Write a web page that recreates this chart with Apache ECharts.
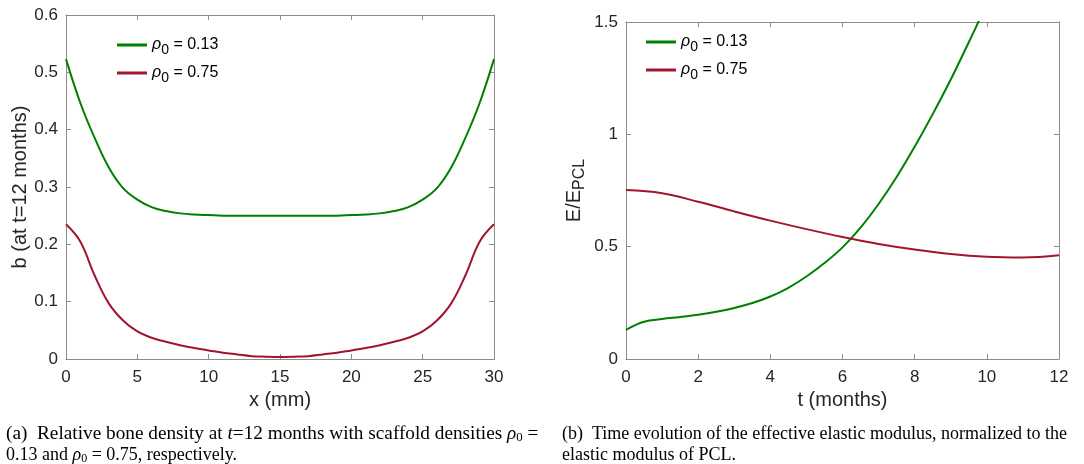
<!DOCTYPE html>
<html>
<head>
<meta charset="utf-8">
<script src="https://cdn.jsdelivr.net/npm/echarts@6/dist/echarts.min.js"></script>
<style>
html, body { margin: 0; padding: 0; background: #fff; }
#main { width: 1084px; height: 464px; }
</style>
</head>
<body>
<div id="main"></div>
<script>
// (a) bone density along x (mm)
var xGrid = [0, 1, 2, 3, 4, 5, 6, 7, 8, 9, 10, 11, 12, 13, 14, 15, 16, 17, 18, 19, 20, 21, 22, 23, 24, 25, 26, 27, 28, 29, 30];
var bGreen = [0.523, 0.447, 0.386, 0.334, 0.298, 0.278, 0.265, 0.258, 0.254, 0.252, 0.251, 0.25, 0.25, 0.25, 0.25, 0.25, 0.25, 0.25, 0.25, 0.25, 0.251, 0.252, 0.254, 0.258, 0.265, 0.278, 0.298, 0.334, 0.386, 0.447, 0.523];
var bRed = [0.235, 0.205, 0.146, 0.097, 0.067, 0.048, 0.037, 0.030, 0.024, 0.019, 0.015, 0.011, 0.008, 0.005, 0.004, 0.0035, 0.004, 0.005, 0.008, 0.011, 0.015, 0.019, 0.024, 0.030, 0.037, 0.048, 0.067, 0.097, 0.146, 0.205, 0.235];

// (b) E/E_PCL over t (months)
var tGreen = [0, 0.5, 1, 1.5, 2, 2.5, 3, 3.5, 4, 4.5, 5, 5.5, 6, 6.5, 7, 7.5, 8, 8.5, 9, 9.5, 10];
var eGreen = [0.13, 0.166, 0.178, 0.187, 0.197, 0.21, 0.227, 0.249, 0.278, 0.317, 0.367, 0.427, 0.497, 0.585, 0.69, 0.81, 0.945, 1.09, 1.244, 1.41, 1.58];
var tRed = [0, 1, 2, 3, 4, 5, 6, 7, 8, 9, 10, 11, 12];
var eRed = [0.752, 0.738, 0.70, 0.657, 0.616, 0.578, 0.543, 0.512, 0.487, 0.467, 0.455, 0.452, 0.462];

var names = ['ρ0 = 0.13', 'ρ0 = 0.75'];
var green = '#008000';
var red = '#a2142f';
var sans = 'Liberation Sans';
var serif = 'Liberation Serif';

function pairs(xs, ys) {
    var out = [];
    for (var i = 0; i < xs.length; i++) out.push([xs[i], ys[i]]);
    return out;
}

// box axes: ticks inside, no labels on top/right
function boxX(grid, min, max, interval, show, name) {
    return {
        type: 'value', gridIndex: grid, min: min, max: max, interval: interval,
        position: show ? 'bottom' : 'top',
        name: show ? name : '', nameLocation: 'middle', nameGap: 31,
        nameTextStyle: { fontFamily: sans, fontSize: 20, color: '#262626' },
        axisLine: { show: true, onZero: false, lineStyle: { color: '#8c8c8c', width: 1 } },
        axisTick: { show: true, inside: true, length: 5, lineStyle: { color: '#8c8c8c' } },
        axisLabel: { show: show, fontFamily: sans, fontSize: 17, color: '#262626', margin: 10 },
        splitLine: { show: false }
    };
}
function boxY(grid, min, max, interval, show, name, gap, rich) {
    return {
        type: 'value', gridIndex: grid, min: min, max: max, interval: interval,
        position: show ? 'left' : 'right',
        name: show ? name : '', nameLocation: 'middle', nameGap: gap,
        nameTextStyle: { fontFamily: sans, fontSize: 20, color: '#262626', rich: rich },
        axisLine: { show: true, onZero: false, lineStyle: { color: '#8c8c8c', width: 1 } },
        axisTick: { show: true, inside: true, length: 5, lineStyle: { color: '#8c8c8c' } },
        axisLabel: { show: show, fontFamily: sans, fontSize: 17, color: '#262626', margin: 8 },
        splitLine: { show: false }
    };
}

var legendRich = {
    r: { fontFamily: sans, fontSize: 16, fontStyle: 'italic', color: '#000' },
    s: { fontFamily: sans, fontSize: 14, color: '#000', padding: [10, 0, 0, 0] },
    n: { fontFamily: sans, fontSize: 16, color: '#000' }
};
function legendFmt(name) {
    return '{r|ρ}{s|0}{n|' + name.slice(2) + '}';
}

var capStyle = {
    fontFamily: serif, fontSize: 18, fill: '#000',
    rich: {
        i: { fontFamily: serif, fontSize: 18, fontStyle: 'italic' },
        s: { fontFamily: serif, fontSize: 12, padding: [8, 0, 0, 0] }
    }
};

var option = {
    animation: false,
    backgroundColor: '#fff',
    grid: [
        { left: 66, top: 15, width: 428, height: 344 },
        { left: 626, top: 22, width: 433, height: 337 }
    ],
    xAxis: [
        boxX(0, 0, 30, 5, true, 'x (mm)'),
        boxX(0, 0, 30, 5, false),
        boxX(1, 0, 12, 2, true, 't (months)'),
        boxX(1, 0, 12, 2, false)
    ],
    yAxis: [
        boxY(0, 0, 0.6, 0.1, true, 'b (at t=12 months)', 33),
        boxY(0, 0, 0.6, 0.1, false),
        boxY(1, 0, 1.5, 0.5, true, '{n|E/E}{s|PCL}', 38, {
            n: { fontFamily: sans, fontSize: 20, color: '#262626' },
            s: { fontFamily: sans, fontSize: 16, color: '#262626', padding: [12, 0, 0, 0] }
        }),
        boxY(1, 0, 1.5, 0.5, false)
    ],
    legend: [
        {
            left: 117, top: 37, padding: 0, orient: 'vertical', icon: 'rect', itemWidth: 30, itemHeight: 3, itemGap: 8,
            data: names, formatter: legendFmt, textStyle: { rich: legendRich }, selectedMode: false
        },
        {
            left: 646, top: 34, padding: 0, orient: 'vertical', icon: 'rect', itemWidth: 30, itemHeight: 3, itemGap: 8,
            data: names, formatter: legendFmt, textStyle: { rich: legendRich }, selectedMode: false
        }
    ],
    series: [
        { name: names[0], type: 'line', xAxisIndex: 0, yAxisIndex: 0, data: pairs(xGrid, bGreen), smooth: 0.4, symbol: 'none', lineStyle: { color: green, width: 2 }, itemStyle: { color: green } },
        { name: names[1], type: 'line', xAxisIndex: 0, yAxisIndex: 0, data: pairs(xGrid, bRed), smooth: 0.4, symbol: 'none', lineStyle: { color: red, width: 2 }, itemStyle: { color: red } },
        { name: names[0], type: 'line', xAxisIndex: 2, yAxisIndex: 2, data: pairs(tGreen, eGreen), smooth: 0.4, symbol: 'none', lineStyle: { color: green, width: 2 }, itemStyle: { color: green } },
        { name: names[1], type: 'line', xAxisIndex: 2, yAxisIndex: 2, data: pairs(tRed, eRed), smooth: 0.4, symbol: 'none', lineStyle: { color: red, width: 2 }, itemStyle: { color: red } }
    ],
    graphic: [
        { type: 'text', left: 6, top: 425, scaleX: 1.07, style: Object.assign({}, capStyle, { text: '(a)  Relative bone density at {i|t}=12 months with scaffold densities {i|ρ}{s|0} =' }) },
        { type: 'text', left: 6, top: 446, style: Object.assign({}, capStyle, { text: '0.13 and {i|ρ}{s|0} = 0.75, respectively.' }) },
        { type: 'text', left: 562, top: 425, style: Object.assign({}, capStyle, { text: '(b)  Time evolution of the effective elastic modulus, normalized to the' }) },
        { type: 'text', left: 562, top: 446, style: Object.assign({}, capStyle, { text: 'elastic modulus of PCL.' }) }
    ]
};

var chart = echarts.init(document.getElementById('main'));
chart.setOption(option);
</script>
</body>
</html>
